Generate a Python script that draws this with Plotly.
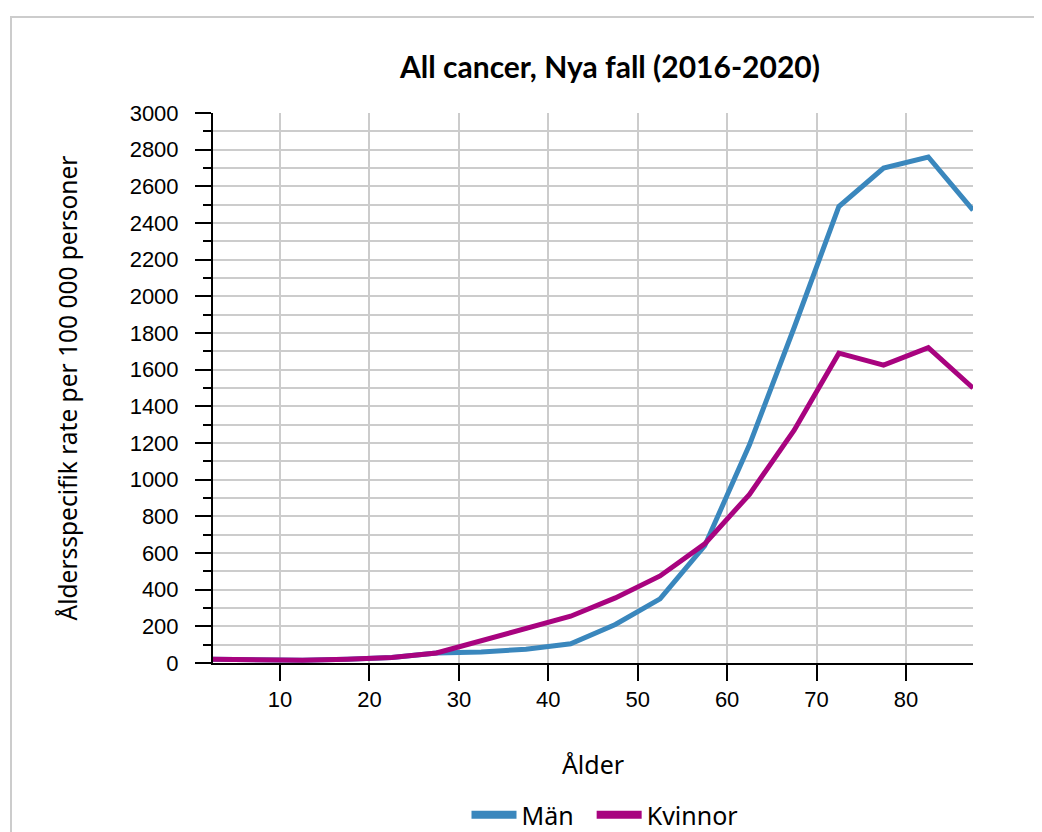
import plotly.graph_objects as go

ages = [2.5, 7.5, 12.5, 17.5, 22.5, 27.5, 32.5, 37.5, 42.5, 47.5, 52.5, 57.5, 62.5, 67.5, 72.5, 77.5, 82.5, 87.5]
man = [20, 15, 15, 20, 30, 55, 60, 75, 105, 210, 350, 640, 1190, 1830, 2490, 2700, 2760, 2470]
kvinnor = [20, 15, 15, 20, 30, 55, 120, 190, 255, 355, 475, 650, 920, 1270, 1690, 1625, 1720, 1500]
series = [('Män', man, '#3a87bd'), ('Kvinnor', kvinnor, '#a8037f')]

# page has an 8px body margin, so the figure starts at (8, 8)
W, H = 1034, 824
L, R, T, B = 205, 69, 105, 169
pw, ph = W - L - R, H - T - B

fig = go.Figure()
for name, vals, col in series:
    fig.add_trace(go.Scatter(x=ages, y=vals, mode='lines', name=name, showlegend=False,
                             line=dict(color=col, width=5)))
# legend entries with a thicker line swatch
for name, vals, col in series:
    label = name + '&nbsp;&nbsp;' if name == 'Män' else name
    fig.add_trace(go.Scatter(x=[None], y=[None], mode='lines', name=label,
                             line=dict(color=col, width=8)))

fig.update_layout(
    width=W, height=H,
    margin=dict(l=L, r=R, t=T, b=B, autoexpand=False),
    paper_bgcolor='white', plot_bgcolor='white',
    title=dict(text='<b>All cancer, Nya fall (2016-2020)</b>', x=602 / W, xanchor='center',
               y=1 - 59 / H, yanchor='middle',
               font=dict(family='Lato', size=30, color='black')),
    legend=dict(orientation='h', x=(597 - L) / pw, xanchor='center', y=(H - B - 807) / ph, yanchor='middle',
                font=dict(family='Noto Sans', size=25, color='black'), itemwidth=45),
    showlegend=True,
)
fig.update_xaxes(
    range=[2.5, 87.5], tickvals=[10, 20, 30, 40, 50, 60, 70, 80],
    showgrid=True, gridcolor='#cccccc', gridwidth=2,
    showline=True, linecolor='black', linewidth=2,
    ticks='outside', ticklen=16, tickwidth=2, tickcolor='black',
    tickfont=dict(family='Liberation Sans', size=22, color='black'),
    title=dict(text='Ålder', standoff=45, font=dict(family='Noto Sans', size=25, color='black')),
    zeroline=False,
)
fig.update_yaxes(
    range=[0, 3000], tickvals=list(range(0, 3001, 200)),
    showgrid=True, gridcolor='#cccccc', gridwidth=2,
    minor=dict(dtick=100, showgrid=True, gridcolor='#cccccc', gridwidth=2,
               ticks='outside', ticklen=8, tickwidth=2, tickcolor='black'),
    showline=True, linecolor='black', linewidth=2,
    ticks='outside', ticklen=16, tickwidth=2, tickcolor='black',
    ticklabelstandoff=12,
    tickfont=dict(family='Liberation Sans', size=22, color='black'),
    title=dict(text='Åldersspecifik rate per 100 000 personer', standoff=45,
               font=dict(family='Noto Sans', size=24.5, color='black')),
    zeroline=False,
)
# outer frame
fig.add_shape(type='rect', xref='paper', yref='paper',
              x0=(3 - L) / pw, x1=2, y0=-1, y1=(H - B - 9) / ph,
              line=dict(color='#cccccc', width=2), layer='below')

fig.write_html("out.html")
